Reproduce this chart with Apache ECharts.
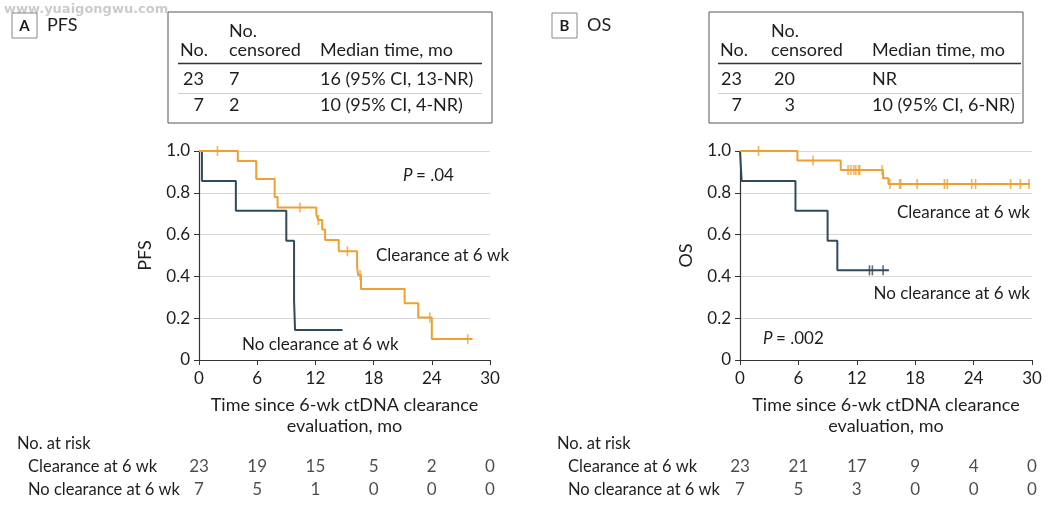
<!DOCTYPE html>
<html><head><meta charset="utf-8">
<script src="https://cdn.jsdelivr.net/npm/echarts@6/dist/echarts.min.js"></script>
<style>html,body{margin:0;padding:0;background:#fff}#c{width:1056px;height:512px}</style>
</head><body><div id="c"></div>
<script>
// ---------- DATA ----------
const xTicks = [0, 6, 12, 18, 24, 30];
// Panel A: PFS
const pfsClearT = [0, 4.0, 5.9, 7.8, 8.1, 12.1, 12.3, 12.7, 13.0, 14.4, 16.3, 16.4, 16.7, 21.2, 22.6, 24.0, 28.2];
const pfsClearS = [1.0, 0.952, 0.866, 0.78, 0.73, 0.694, 0.67, 0.625, 0.574, 0.52, 0.447, 0.407, 0.34, 0.271, 0.203, 0.10, 0.10];
const pfsClearCens = [1.9, 10.4, 12.3, 15.3, 16.6, 23.8, 27.7];
const pfsNoT = [0, 0.3, 3.8, 9.0, 9.8, 9.9, 14.8];
const pfsNoS = [1.0, 0.857, 0.714, 0.571, 0.286, 0.143, 0.143];
const pfsNoCens = [];
// Panel B: OS
const osClearT = [0, 5.9, 10.35, 14.7, 15.25, 29.8];
const osClearS = [1.0, 0.955, 0.909, 0.87, 0.842, 0.842];
const osClearCens = [1.9, 7.5, 11.1, 11.4, 11.7, 11.9, 12.2, 12.3, 14.6, 15.4, 16.4, 16.5, 18.2, 21.0, 21.3, 23.8, 24.2, 27.8, 28.8, 29.7];
const osNoT = [0, 0.17, 5.7, 9.0, 10.0, 15.3];
const osNoS = [1.0, 0.857, 0.714, 0.571, 0.429, 0.429];
const osNoCens = [13.3, 13.6, 14.7];
// Number at risk
const riskRows = ['No clearance at 6 wk', 'Clearance at 6 wk'];
const pfsRiskClear = [23, 19, 15, 5, 2, 0];
const pfsRiskNo = [7, 5, 1, 0, 0, 0];
const osRiskClear = [23, 21, 17, 9, 4, 0];
const osRiskNo = [7, 5, 3, 0, 0, 0];
// Summary tables
const pfsTable = [['23', '7', '16 (95% CI, 13-NR)'], ['7', '2', '10 (95% CI, 4-NR)']];
const osTable = [['23', '20', 'NR'], ['7', '3', '10 (95% CI, 6-NR)']];

// ---------- STYLE ----------
const ORANGE = '#EFA02F', NAVY = '#2F4A5B', TXT = '#1e1e1e';
const FONT = 'Lato';

function stepAt(T, S, t) { let v = S[0]; for (let i = 0; i < T.length; i++) { if (T[i] <= t) v = S[i]; } return v; }
function pts(T, S) { return T.map((t, i) => [t, S[i]]); }
function cens(T, S, C) { return C.map(t => [t, stepAt(T, S, t)]); }
function riskData(clear, no) {
  const d = [];
  xTicks.forEach((x, i) => { d.push([x, riskRows[1], clear[i]]); d.push([x, riskRows[0], no[i]]); });
  return d;
}

function txt(x, y, s, o) {
  return { type: 'text', x: x, y: y, style: Object.assign({ text: s, fill: TXT, font: '16.5px ' + FONT, textVerticalAlign: 'middle' }, o || {}) };
}
function line(x1, y1, x2, y2, c, w) { return { type: 'line', shape: { x1, y1, x2, y2 }, style: { stroke: c, lineWidth: w } }; }

const TF = { font: '18px ' + FONT };
function summaryTable(box, cols, rows, ruleEnd) {
  const g = [];
  g.push({ type: 'rect', shape: { x: box[0], y: box[1], width: box[2] - box[0], height: box[3] - box[1] }, style: { fill: 'none', stroke: '#555', lineWidth: 1 } });
  g.push(txt(cols.no, 50, 'No.', TF));
  g.push(txt(cols.cens, 31, 'No.', TF));
  g.push(txt(cols.cens, 50, 'censored', TF));
  g.push(txt(cols.med, 50, 'Median time, mo', TF));
  g.push(line(cols.no - 2, 63.5, ruleEnd, 63.5, '#333', 1.5));
  g.push(line(cols.no - 2, 93.5, ruleEnd, 93.5, '#ccc', 1));
  const ys = [79, 105];
  rows.forEach((r, i) => {
    g.push(txt(cols.noR, ys[i], r[0], Object.assign({ textAlign: 'right' }, TF)));
    if (cols.censAlign === 'right') g.push(txt(cols.censR, ys[i], r[1], Object.assign({ textAlign: 'right' }, TF)));
    else g.push(txt(cols.cens, ys[i], r[1], TF));
    g.push(txt(cols.med, ys[i], r[2], TF));
  });
  return g;
}

function panelBox(x, letter, label) {
  return [
    { type: 'rect', shape: { x: x, y: 13, width: 25, height: 25 }, style: { fill: '#fff', stroke: '#888', lineWidth: 1 } },
    txt(x + 12.5, 26, letter, { textAlign: 'center', font: 'bold 15px ' + FONT }),
    txt(x + 35, 25, label, { font: '18px ' + FONT })
  ];
}

const graphics = [].concat(
  [txt(4, 10, 'www.yuaigongwu.com', { fill: '#cbcbcb', font: 'bold 13px "DejaVu Sans"' })],
  panelBox(12, 'A', 'PFS'),
  panelBox(552, 'B', 'OS'),
  summaryTable([168, 12, 492, 123], { no: 180, noR: 204, cens: 229, censAlign: 'left', med: 320 }, pfsTable, 482),
  summaryTable([709, 12, 1023, 123], { no: 720, noR: 742, cens: 771, censR: 795, censAlign: 'right', med: 872 }, osTable, 1021),
  [
    txt(403, 176, 'P', { font: 'italic 17px ' + FONT }),
    txt(416, 176, '= .04', { font: '17px ' + FONT }),
    txt(376, 256, 'Clearance at 6 wk', { font: '17px ' + FONT }),
    txt(242, 345, 'No clearance at 6 wk', { font: '17px ' + FONT }),
    txt(1030, 213, 'Clearance at 6 wk', { textAlign: 'right', font: '17px ' + FONT }),
    txt(1030, 294, 'No clearance at 6 wk', { textAlign: 'right', font: '17px ' + FONT }),
    txt(763, 339, 'P', { font: 'italic 17px ' + FONT }),
    txt(776, 339, '= .002', { font: '17px ' + FONT }),
    txt(17, 444, 'No. at risk'),
    txt(28, 467, riskRows[1]),
    txt(28, 490, riskRows[0]),
    txt(557, 444, 'No. at risk'),
    txt(568, 467, riskRows[1]),
    txt(568, 490, riskRows[0])
  ]
);

function plotX(gi, name) {
  return {
    gridIndex: gi, type: 'value', min: 0, max: 30, interval: 6,
    axisLine: { show: true, onZero: false, lineStyle: { color: '#333', width: 1.2 } },
    axisTick: { show: true, length: 5, lineStyle: { color: '#333' } },
    axisLabel: { fontSize: 17, color: TXT, fontFamily: FONT, margin: 10 },
    splitLine: { show: false },
    name: name, nameLocation: 'middle', nameGap: 35,
    nameTextStyle: { fontSize: 18, lineHeight: 21, color: TXT, fontFamily: FONT }
  };
}
function plotY(gi, name) {
  return {
    gridIndex: gi, type: 'value', min: 0, max: 1, interval: 0.2,
    axisLine: { show: true, lineStyle: { color: '#333', width: 1.2 } },
    axisTick: { show: true, length: 5, lineStyle: { color: '#333' } },
    axisLabel: { fontSize: 17, color: TXT, fontFamily: FONT, margin: 9, formatter: v => v === 0 ? '0' : v.toFixed(1) },
    splitLine: { show: true, lineStyle: { color: '#d8d8d8', width: 1 } },
    name: name, nameLocation: 'middle', nameGap: 45, nameRotate: 90,
    nameTextStyle: { fontSize: 18, color: TXT, fontFamily: FONT }
  };
}
const hiddenX = gi => ({ gridIndex: gi, type: 'value', min: 0, max: 30, show: false });
const hiddenY = gi => ({ gridIndex: gi, type: 'category', data: riskRows, show: false });

function curve(gi, T, S, color) {
  return { type: 'line', xAxisIndex: gi, yAxisIndex: gi, data: pts(T, S), step: 'end', symbol: 'none', lineStyle: { color: color, width: 2 }, z: 3, silent: true, animation: false };
}
function censor(gi, T, S, C, color) {
  return { type: 'scatter', xAxisIndex: gi, yAxisIndex: gi, data: cens(T, S, C), symbol: 'rect', symbolSize: [1.6, 10], itemStyle: { color: color }, z: 4, silent: true, animation: false };
}
function risk(gi, clear, no) {
  return {
    type: 'scatter', xAxisIndex: gi, yAxisIndex: gi, data: riskData(clear, no), symbolSize: 1,
    itemStyle: { color: 'rgba(0,0,0,0)' }, silent: true, animation: false,
    label: { show: true, position: 'inside', formatter: p => String(p.value[2]), fontSize: 17, color: TXT, fontFamily: FONT }
  };
}

const xName = 'Time since 6-wk ctDNA clearance\nevaluation, mo';
const option = {
  animation: false,
  textStyle: { fontFamily: FONT },
  grid: [
    { left: 199, top: 151, width: 291, height: 209 },
    { left: 740, top: 151, width: 292, height: 209 },
    { left: 199, top: 455, width: 291, height: 46 },
    { left: 740, top: 455, width: 292, height: 46 }
  ],
  xAxis: [plotX(0, xName), plotX(1, xName), hiddenX(2), hiddenX(3)],
  yAxis: [plotY(0, 'PFS'), plotY(1, 'OS'), hiddenY(2), hiddenY(3)],
  series: [
    curve(0, pfsNoT, pfsNoS, NAVY),
    curve(0, pfsClearT, pfsClearS, ORANGE),
    censor(0, pfsClearT, pfsClearS, pfsClearCens, ORANGE),
    censor(0, pfsNoT, pfsNoS, pfsNoCens, NAVY),
    curve(1, osNoT, osNoS, NAVY),
    curve(1, osClearT, osClearS, ORANGE),
    censor(1, osClearT, osClearS, osClearCens, ORANGE),
    censor(1, osNoT, osNoS, osNoCens, NAVY),
    risk(2, pfsRiskClear, pfsRiskNo),
    risk(3, osRiskClear, osRiskNo)
  ],
  graphic: graphics
};
const chart = echarts.init(document.getElementById('c'), null, { renderer: 'canvas' });
chart.setOption(option);
</script></body></html>
